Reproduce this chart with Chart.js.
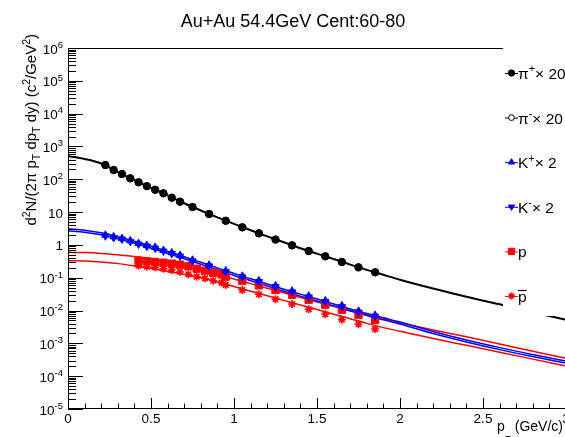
<!DOCTYPE html>
<html>
<head>
<meta charset="utf-8">
<script src="https://cdn.jsdelivr.net/npm/chart.js@4.4.0/dist/chart.umd.min.js"></script>
<style>
  html, body { margin: 0; padding: 0; background: #fff; overflow: hidden; }
  #wrap { width: 580px; height: 437px; }
</style>
</head>
<body>
<div id="wrap"><canvas id="spectra" width="580" height="437"></canvas></div>
<script>
// pT bin centres (GeV/c)
var ptPiK = [0.225, 0.275, 0.325, 0.375, 0.425, 0.475, 0.525, 0.575, 0.625, 0.675,
             0.75, 0.85, 0.95, 1.05, 1.15, 1.25, 1.35, 1.45, 1.55, 1.65, 1.75, 1.85];
var ptProton = [0.425, 0.475, 0.525, 0.575, 0.625, 0.675, 0.725, 0.775, 0.825, 0.875, 0.925, 0.95,
                1.05, 1.15, 1.25, 1.35, 1.45, 1.55, 1.65, 1.75, 1.85];

// invariant yields, already scaled as in the legend
var piPlus  = [272, 192, 145, 107, 81, 62, 48, 37.4, 27.5, 20.8, 14.3, 8.76, 5.47, 3.44, 2.26, 1.46,
               0.973, 0.653, 0.450, 0.302, 0.208, 0.147];
var piMinus = [268, 189, 143, 106, 80, 61, 47.5, 37.0, 27.2, 20.6, 14.1, 8.65, 5.40, 3.40, 2.23, 1.44,
               0.960, 0.645, 0.444, 0.298, 0.205, 0.145];
var kPlus   = [2.0, 1.78, 1.59, 1.35, 1.12, 0.97, 0.85, 0.685, 0.579, 0.483, 0.347, 0.244, 0.164, 0.113,
               0.0812, 0.0572, 0.0394, 0.0278, 0.0200, 0.0141, 0.0097, 0.0072];
var kMinus  = [1.86, 1.66, 1.48, 1.26, 1.05, 0.905, 0.79, 0.64, 0.54, 0.45, 0.323, 0.228, 0.153, 0.105,
               0.0757, 0.0533, 0.0367, 0.0259, 0.0187, 0.0131, 0.0090, 0.0067];
var proton  = [0.330, 0.317, 0.302, 0.287, 0.268, 0.250, 0.223, 0.188, 0.164, 0.142, 0.127, 0.108,
               0.0813, 0.0589, 0.0423, 0.0304, 0.0214, 0.0151, 0.0106, 0.00748, 0.00516];
var antiProton = [0.233, 0.217, 0.208, 0.188, 0.172, 0.150, 0.127, 0.108, 0.0949, 0.0813, 0.0707, 0.0601,
                  0.0423, 0.0313, 0.0222, 0.0158, 0.0109, 0.00769, 0.00526, 0.00384, 0.00274];

// fit functions sampled along pT
var ptFit = [0, 0.1, 0.2, 0.3, 0.4, 0.5, 0.6, 0.7, 0.8, 0.9, 1.0, 1.1, 1.2, 1.3, 1.4, 1.5, 1.6, 1.7,
             1.8, 1.9, 2.0, 2.2, 2.4, 2.6, 2.8, 3.0];
var fitPion = [513, 417, 302, 166, 93.3, 55.0, 32.4, 18.6, 11.2, 6.92, 4.37, 2.79, 1.82, 1.20, 0.794,
               0.543, 0.372, 0.251, 0.174, 0.123, 0.0871, 0.0468, 0.0263, 0.0155, 0.00891, 0.00525];
var fitKPlus = [3.09, 2.82, 2.34, 1.78, 1.29, 0.912, 0.631, 0.437, 0.295, 0.200, 0.135, 0.0933, 0.0646,
                0.0447, 0.0316, 0.0224, 0.0158, 0.0112, 0.00813, 0.00603, 0.00447, 0.00229, 0.00126,
                0.000741, 0.000457, 0.000288];
var fitKMinus = [2.69, 2.45, 2.04, 1.55, 1.12, 0.794, 0.549, 0.380, 0.257, 0.174, 0.117, 0.0812, 0.0562,
                 0.0389, 0.0275, 0.0195, 0.0137, 0.00975, 0.00707, 0.00525, 0.00389, 0.00199, 0.00110,
                 0.000645, 0.000398, 0.000251];
var fitProton = [0.596, 0.582, 0.550, 0.501, 0.447, 0.380, 0.309, 0.240, 0.174, 0.126, 0.0912, 0.0661,
                 0.0479, 0.0347, 0.0251, 0.0182, 0.0135, 0.0100, 0.00741, 0.00562, 0.00427, 0.00257,
                 0.00158, 0.000955, 0.000575, 0.000351];
var fitAntiProton = [0.331, 0.324, 0.302, 0.269, 0.229, 0.191, 0.155, 0.126, 0.100, 0.0741, 0.0537,
                     0.0389, 0.0282, 0.0204, 0.0148, 0.0107, 0.00776, 0.00562, 0.00407, 0.00302, 0.00234,
                     0.00141, 0.000871, 0.000537, 0.000331, 0.000204];

// axis ticks
var xMajorTicks = [0, 0.5, 1, 1.5, 2, 2.5, 3];
var xTickLabels = ['0', '0.5', '1', '1.5', '2', '2.5', '3'];
var yDecades = [1e-5, 1e-4, 1e-3, 1e-2, 1e-1, 1, 10, 1e2, 1e3, 1e4, 1e5, 1e6];
var yTickLabels = ['10^{-5}', '10^{-4}', '10^{-3}', '10^{-2}', '10^{-1}', '1', '10',
                   '10^{2}', '10^{3}', '10^{4}', '10^{5}', '10^{6}'];

var titleText = 'Au+Au 54.4GeV Cent:60-80';
var xTitle = 'p_{T} (GeV/c)';
var yTitle = 'd^{2}N/(2π p_{T} dp_{T} dy) (c^{2}/GeV^{2})';

var FONT = '"Liberation Sans", Arial, Helvetica, sans-serif';

function pts(xs, ys) {
  return xs.map(function (x, i) { return { x: x, y: ys[i] }; });
}

// tiny subset of ROOT latex: ^{..} superscript, _{..} subscript, #bar{..} overline
function richParts(str) {
  var out = [], buf = '', i = 0, j;
  function flush() { if (buf) { out.push({ t: buf, mode: 0 }); buf = ''; } }
  while (i < str.length) {
    var c = str[i];
    if ((c === '^' || c === '_') && str[i + 1] === '{') {
      flush();
      j = str.indexOf('}', i);
      out.push({ t: str.slice(i + 2, j), mode: c === '^' ? 1 : -1 });
      i = j + 1;
    } else if (str.substr(i, 5) === '#bar{') {
      flush();
      j = str.indexOf('}', i);
      out.push({ t: str.slice(i + 5, j), mode: 0, bar: true });
      i = j + 1;
    } else {
      buf += c; i++;
    }
  }
  flush();
  return out;
}

function partFont(p, size) {
  return (p.mode ? size * 0.7 : size) + 'px ' + FONT;
}

// subDrop: how far below the baseline subscripts sit, in units of the font size
function drawRich(ctx, str, x, y, size, align, subDrop) {
  var parts = richParts(str), w = 0;
  var drop = subDrop === undefined ? 0.25 : subDrop;
  parts.forEach(function (p) { ctx.font = partFont(p, size); w += ctx.measureText(p.t).width; });
  var cx = align === 'center' ? x - w / 2 : (align === 'right' ? x - w : x);
  ctx.textAlign = 'left';
  ctx.textBaseline = 'alphabetic';
  parts.forEach(function (p) {
    ctx.font = partFont(p, size);
    var dy = p.mode === 1 ? -0.42 * size : (p.mode === -1 ? drop * size : 0);
    var pw = ctx.measureText(p.t).width;
    ctx.fillText(p.t, cx, y + dy);
    if (p.bar) ctx.fillRect(cx, y - 0.78 * size, pw, 1.2);
    cx += pw;
  });
}

function markerSet(label, xs, ys, color, style, radius, extra) {
  var ds = {
    label: label,
    data: pts(xs, ys),
    showLine: false,
    pointStyle: style,
    pointRadius: radius,
    pointBackgroundColor: color,
    pointBorderColor: color,
    pointBorderWidth: 1,
    pointHoverRadius: radius
  };
  for (var k in extra) ds[k] = extra[k];
  return ds;
}

function fitSet(ys, color, width) {
  return {
    label: '',
    data: pts(ptFit, ys),
    showLine: true,
    borderColor: color,
    borderWidth: width,
    pointRadius: 0,
    cubicInterpolationMode: 'monotone',
    fill: false
  };
}

var datasets = [
  markerSet('π^{+}× 20', ptPiK, piPlus, '#000000', 'circle', 3.7),
  markerSet('π^{-}× 20', ptPiK, piMinus, '#000000', 'circle', 3.4, { pointBackgroundColor: '#ffffff' }),
  markerSet('K^{+}× 2', ptPiK, kPlus, '#0000ff', 'triangle', 4.2),
  markerSet('K^{-}× 2', ptPiK, kMinus, '#0000ff', 'triangle', 4.2, { pointRotation: 180 }),
  markerSet('p', ptProton, proton, '#ff0000', 'rect', 5.2),
  markerSet('#bar{p}', ptProton, antiProton, '#ff0000', 'star', 4, { pointBorderWidth: 1.6 }),
  fitSet(fitPion, '#000000', 2),
  fitSet(fitKPlus, '#0000ff', 1.5),
  fitSet(fitKMinus, '#0000ff', 1.5),
  fitSet(fitProton, '#ff0000', 1.5),
  fitSet(fitAntiProton, '#ff0000', 1.5)
];

// frame, inward ticks, labels and the legend pane, ROOT style
var rootFrame = {
  id: 'rootFrame',
  afterDatasetsDraw: function (chart) {
    var ctx = chart.ctx, a = chart.chartArea;
    var xs = chart.scales.x, ys = chart.scales.y;
    ctx.save();
    ctx.strokeStyle = '#000';
    ctx.fillStyle = '#000';
    ctx.lineWidth = 1;

    ctx.strokeRect(a.left + 0.5, a.top + 0.5, a.right - a.left, a.bottom - a.top - 1);

    // x ticks: majors every 0.5, minors every 0.1
    ctx.beginPath();
    for (var m = 0; m <= 30; m++) {
      var px = Math.round(xs.getPixelForValue(m / 10)) + 0.5;
      var len = (m % 5 === 0) ? 11 : 5.5;
      ctx.moveTo(px, a.bottom);
      ctx.lineTo(px, a.bottom - len);
    }
    // y ticks: decades plus 2..9
    yDecades.forEach(function (d, i) {
      var py = Math.round(ys.getPixelForValue(d)) + 0.5;
      ctx.moveTo(a.left, py);
      ctx.lineTo(a.left + 15, py);
      if (i === yDecades.length - 1) return;
      for (var k = 2; k <= 9; k++) {
        var my = Math.round(ys.getPixelForValue(d * k)) + 0.5;
        ctx.moveTo(a.left, my);
        ctx.lineTo(a.left + 8, my);
      }
    });
    ctx.stroke();

    xMajorTicks.forEach(function (v, i) {
      drawRich(ctx, xTickLabels[i], xs.getPixelForValue(v), a.bottom + 14, 13.5, 'center');
    });
    yDecades.forEach(function (d, i) {
      drawRich(ctx, yTickLabels[i], a.left - 5, ys.getPixelForValue(d) + 5.5, 13.5, 'right');
    });

    drawRich(ctx, titleText, 293, 27, 18, 'center');
    // the subscript of pT hangs off the bottom edge of the pad
    drawRich(ctx, xTitle, a.right - 3, 431, 14, 'right', 0.8);

    ctx.save();
    ctx.translate(36, 34);
    ctx.rotate(-Math.PI / 2);
    drawRich(ctx, yTitle, 0, 0, 15, 'right');
    ctx.restore();

    // legend pane sits on top of the frame
    ctx.fillStyle = '#ffffff';
    ctx.fillRect(503, 40, 80, 276);
    var rowY = 73, rowStep = 44.6;
    datasets.forEach(function (ds, i) {
      if (!ds.label) return;
      var y = rowY + i * rowStep;
      ctx.strokeStyle = ds.pointBorderColor;
      ctx.lineWidth = 1;
      ctx.beginPath();
      ctx.moveTo(505, y + 0.5);
      ctx.lineTo(518, y + 0.5);
      ctx.stroke();
      ctx.fillStyle = ds.pointBackgroundColor;
      ctx.lineWidth = ds.pointBorderWidth;
      Chart.helpers.drawPoint(ctx, {
        pointStyle: ds.pointStyle,
        radius: ds.pointRadius * 0.85,
        rotation: ds.pointRotation || 0,
        borderWidth: ds.pointBorderWidth
      }, 511.5, y);
      ctx.fillStyle = '#000';
      drawRich(ctx, ds.label, 518, y + 6, 15.5, 'left');
    });
    ctx.restore();
  }
};

new Chart(document.getElementById('spectra'), {
  type: 'scatter',
  data: { datasets: datasets },
  options: {
    responsive: false,
    animation: false,
    layout: { padding: { left: 68, top: 48, right: 14, bottom: 28 } },
    plugins: { legend: { display: false }, tooltip: { enabled: false }, title: { display: false } },
    scales: {
      x: { type: 'linear', min: 0, max: 3, display: false },
      y: { type: 'logarithmic', min: 1e-5, max: 1e6, display: false }
    }
  },
  plugins: [rootFrame]
});
</script>
</body>
</html>
